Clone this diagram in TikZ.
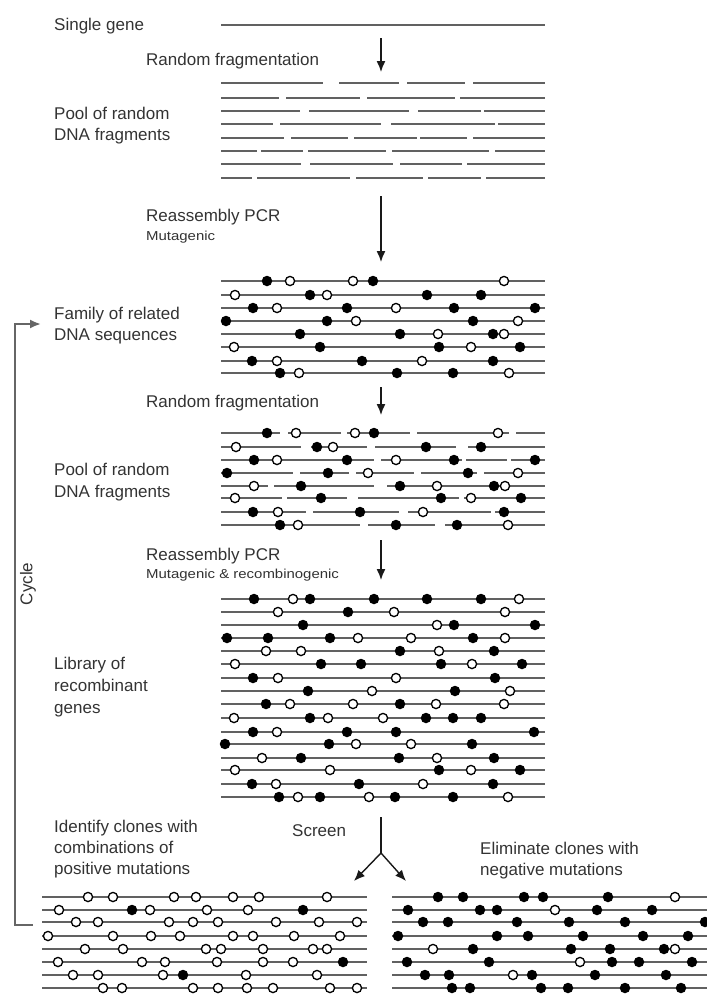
\documentclass[tikz,border=0pt]{standalone}
\usepackage{fontspec}
\setmainfont{Liberation Sans}
\newfontfamily\stretchsf[FakeStretch=1.15]{Liberation Sans}
\usetikzlibrary{arrows.meta}

\begin{document}
\begin{tikzpicture}[x=1pt,y=-1pt,
    lbl/.style={anchor=base west,inner sep=0pt,text=black!80,font=\fontsize{17}{20}\selectfont},
    sublbl/.style={anchor=base west,inner sep=0pt,text=black!80,font=\stretchsf\fontsize{13}{15}\selectfont},
    gene/.style={line width=1.9pt,black!62},
    dotf/.style={fill=black,draw=black,line width=1.2pt},
    doto/.style={fill=white,draw=black,line width=1.3pt},
    arr/.style={line width=1.4pt,black!90,-{Latex[length=11pt,width=9pt]}}]
    \useasboundingbox (0,0) rectangle (707,994);

    \node[lbl] at (54,30)  (single)    {Single gene};
    \node[lbl] at (146,65) (randFragA) {Random fragmentation};
    \node[lbl] at (54,119) (poolA1)    {Pool of random};
    \node[lbl] at (54,140) (poolA2)    {DNA fragments};
    \node[lbl] at (146,221) (reasmA)   {Reassembly PCR};
    \node[sublbl] at (146,240) (mutA)  {Mutagenic};
    \node[lbl] at (54,319) (family1)   {Family of related};
    \node[lbl] at (54,340) (family2)   {DNA sequences};
    \node[lbl] at (146,407) (randFragB) {Random fragmentation};
    \node[lbl] at (54,475) (poolB1)    {Pool of random};
    \node[lbl] at (54,497) (poolB2)    {DNA fragments};
    \node[lbl] at (146,560) (reasmB)   {Reassembly PCR};
    \node[sublbl] at (146,578) (mutB)  {Mutagenic \& recombinogenic};
    \node[lbl] at (54,669) (lib1)      {Library of};
    \node[lbl] at (54,691) (lib2)      {recombinant};
    \node[lbl] at (54,713) (lib3)      {genes};
    \node[lbl,anchor=center,rotate=90] at (28,584) (cycle) {Cycle};
    \node[lbl] at (54,832) (ident1)    {Identify clones with};
    \node[lbl] at (54,853) (ident2)    {combinations of};
    \node[lbl] at (54,874) (ident3)    {positive mutations};
    \node[lbl] at (292,836) (screen)   {Screen};
    \node[lbl] at (480,854) (elim1)    {Eliminate clones with};
    \node[lbl] at (480,875) (elim2)    {negative mutations};

    \coordinate (geneL) at (221,25);
    \coordinate (geneR) at (545,25);
    \draw[gene] (geneL) -- (geneR);

    \foreach \y/\sl in {83/{221/323,339/399,407/465,473/545},
                        98/{221/279,286/360,367/455,460/545},
                        111/{221/300,309/409,418/481,484/545},
                        124/{221/273,280/381,391/495,498/545},
                        138/{221/284,291/348,354/417,420/467,473/545},
                        151/{221/257,261/303,308/386,392/489,495/545},
                        164/{221/301,310/393,400/462,467/545},
                        178/{221/252,257/350,356/423,428/481,486/545}} {
        \foreach \a/\b in \sl {\draw[gene] (\a,\y) -- (\b,\y);}
    }

    \foreach \y/\dl in {281/{267/f,290/o,353/o,373/f,504/o},
                        295/{235/o,310/f,327/o,427/f,481/f},
                        308/{253/f,277/o,347/f,396/o,454/f,535/f},
                        321/{226/f,327/f,356/o,473/f,518/o},
                        334/{300/f,400/f,438/o,493/f,504/o},
                        347/{234/o,320/f,439/f,471/o,520/f},
                        361/{252/f,277/o,362/f,422/o,493/f},
                        373/{280/f,299/o,397/f,453/f,509/o}} {
        \draw[gene] (221,\y) -- (545,\y);
        \foreach \x/\t in \dl {\path[dot\t] (\x,\y) circle[radius=4.6pt];}
    }

    \foreach \y/\sl/\dl in {433/{221/280,288/341,347/410,417/509,516/545}/{267/f,296/o,355/o,374/f,498/o},
                            447/{221/301,311/367,375/456,468/545}/{236/o,317/f,333/o,426/f,481/f},
                            460/{221/374,381/462,466/507,511/545}/{254/f,277/o,347/f,396/o,454/f,535/f},
                            473/{221/293,300/349,356/414,421/477,484/545}/{227/f,328/f,368/o,468/f,518/o},
                            486/{221/268,274/374,387/545}/{254/o,301/f,400/f,437/o,494/f,505/o},
                            498/{221/282,287/347,358/459,464/545}/{235/o,321/f,441/f,471/o,521/f},
                            512/{221/306,313/399,408/491,495/545}/{253/f,278/o,360/f,423/o,504/f},
                            525/{221/360,368/435,445/545}/{280/f,298/o,396/f,457/f,508/o}} {
        \foreach \a/\b in \sl {\draw[gene] (\a,\y) -- (\b,\y);}
        \foreach \x/\t in \dl {\path[dot\t] (\x,\y) circle[radius=4.6pt];}
    }

    \foreach \y/\dl in {599/{254/f,293/o,310/f,374/f,427/f,481/f,519/o},
                        612/{278/o,348/f,394/o,505/o},
                        625/{303/f,437/o,454/f,535/f},
                        638/{227/f,268/f,330/f,358/o,411/o,473/f,505/o},
                        651/{266/o,301/o,400/f,439/o,494/f},
                        664/{235/o,321/f,361/f,441/f,472/o,522/f},
                        678/{253/f,278/o,396/o,495/f},
                        691/{308/f,372/o,455/f,510/o},
                        704/{266/f,290/o,353/o,400/f,436/o,504/o},
                        718/{234/o,310/f,328/o,383/o,426/f,453/f,481/f},
                        732/{253/f,277/o,347/f,396/f,534/f},
                        744/{225/f,329/f,356/o,411/o,472/f},
                        758/{262/o,301/f,399/f,437/o,494/f},
                        770/{235/o,330/o,439/f,471/o,520/f},
                        784/{252/f,276/o,359/f,423/o,493/f},
                        797/{279/f,298/o,320/f,369/o,395/f,453/f,508/o}} {
        \draw[gene] (221,\y) -- (545,\y);
        \foreach \x/\t in \dl {\path[dot\t] (\x,\y) circle[radius=4.6pt];}
    }

    \foreach \y/\dl in {897/{88/o,113/o,174/o,196/o,233/o,259/o,327/o},
                        910/{59/o,132/f,150/o,207/o,248/o,303/f},
                        922/{76/o,98/o,169/o,193/o,218/o,276/o,319/o,357/o},
                        936/{48/o,113/o,151/o,180/o,233/o,253/o,294/o,340/o},
                        949/{85/o,123/o,206/o,221/o,263/o,313/o,327/o},
                        962/{58/o,142/o,165/o,217/o,263/o,293/o,343/f},
                        975/{73/o,98/o,163/o,183/f,246/o,317/o},
                        988/{103/o,122/o,193/o,218/o,247/o,273/o,330/o,357/o}} {
        \draw[gene] (42,\y) -- (367,\y);
        \foreach \x/\t in \dl {\path[dot\t] (\x,\y) circle[radius=4.6pt];}
    }

    \foreach \y/\dl in {897/{438/f,463/f,524/f,543/f,608/f,675/o},
                        910/{408/f,480/f,497/f,555/o,597/f,652/f},
                        922/{423/f,448/f,517/f,569/f,625/f,705/f},
                        936/{398/f,497/f,528/f,583/f,643/f,688/f},
                        949/{433/o,473/f,571/f,610/f,664/f,675/o},
                        962/{407/f,489/f,580/o,612/f,639/f,692/f},
                        975/{425/f,449/f,513/o,532/f,595/f,666/f},
                        988/{452/f,470/f,541/f,568/f,625/f,681/f}} {
        \draw[gene] (392,\y) -- (707,\y);
        \foreach \x/\t in \dl {\path[dot\t] (\x,\y) circle[radius=4.6pt];}
    }

    \coordinate (arrAs) at (381,38);
    \coordinate (arrAe) at (381,72);
    \coordinate (arrBs) at (381,196);
    \coordinate (arrBe) at (381,262);
    \coordinate (arrCs) at (381,387);
    \coordinate (arrCe) at (381,415);
    \coordinate (arrDs) at (381,540);
    \coordinate (arrDe) at (381,580);
    \coordinate (screenTop) at (381,817);
    \coordinate (screenFork) at (381,853);
    \coordinate (keepEnd) at (354,881);
    \coordinate (dropEnd) at (406,881);
    \coordinate (cycBot) at (33,925);
    \coordinate (cycCorner) at (15,925);
    \coordinate (cycTop) at (41,324);

    \draw[arr] (arrAs) to (arrAe);
    \draw[arr] (arrBs) to (arrBe);
    \draw[arr] (arrCs) to (arrCe);
    \draw[arr] (arrDs) to (arrDe);
    \draw[line width=1.4pt,black!90] (screenTop) to (screenFork);
    \draw[arr] (screenFork) to (keepEnd);
    \draw[arr] (screenFork) to (dropEnd);
    \draw[arr,line width=2pt,black!60] (cycBot) -- (cycCorner) |- (cycTop);
\end{tikzpicture}
\end{document}
